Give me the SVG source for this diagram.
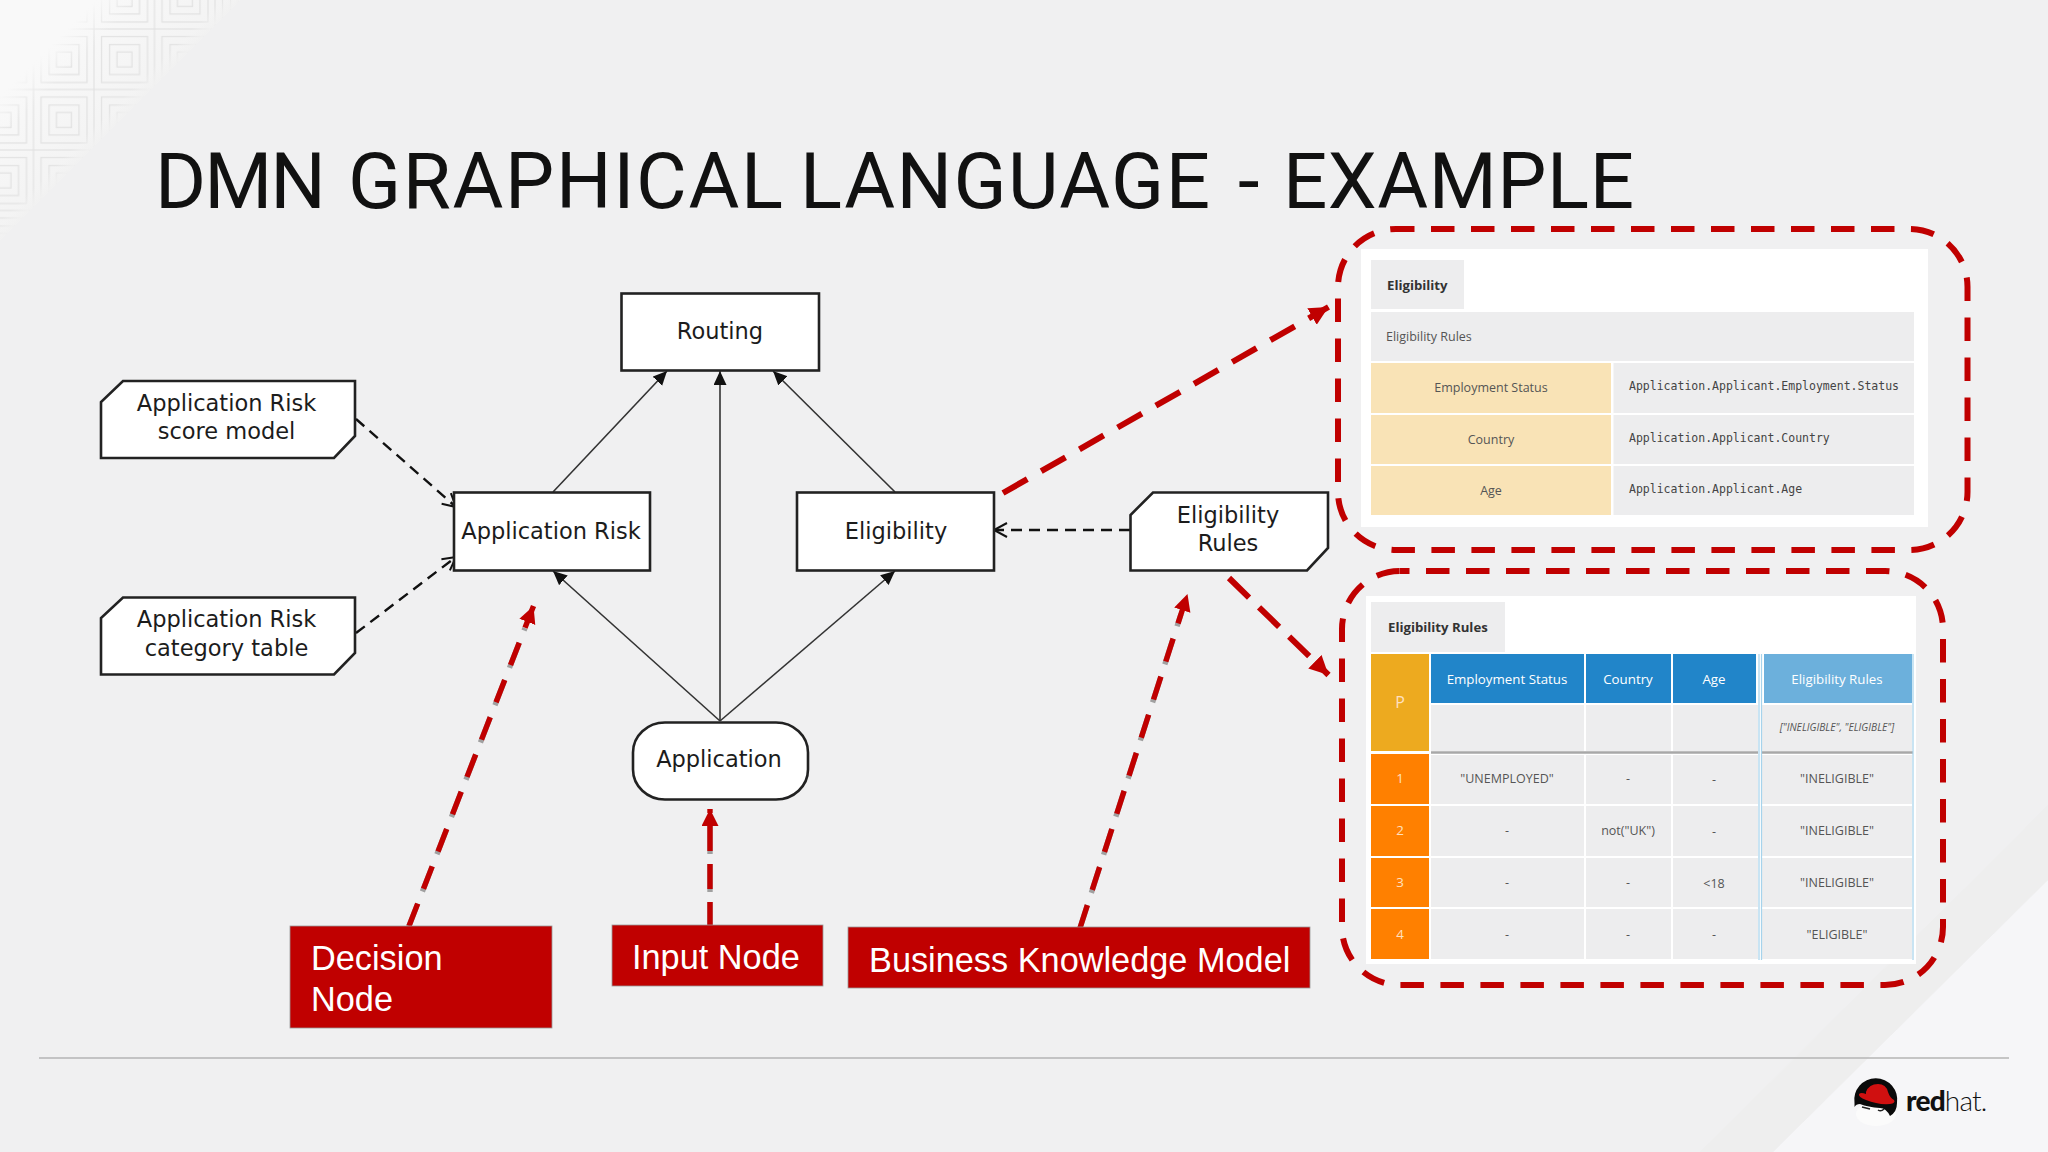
<svg xmlns="http://www.w3.org/2000/svg" width="2048" height="1152" viewBox="0 0 2048 1152">
<defs>
<linearGradient id="fade" x1="0" y1="0" x2="1" y2="1"><stop offset="0.2" stop-color="#f9f9f9"/><stop offset="0.29" stop-color="#f8f8f8" stop-opacity="0"/><stop offset="0.46" stop-color="#f4f4f4" stop-opacity="0"/><stop offset="0.5" stop-color="#f1f1f1"/></linearGradient>
<linearGradient id="tl" x1="0" y1="0" x2="1" y2="1"><stop offset="0" stop-color="#fdfdfd"/><stop offset="0.5" stop-color="#f3f3f3"/></linearGradient>
<pattern id="sq" width="60.5" height="60.5" patternUnits="userSpaceOnUse" x="33.5" y="29">
<g fill="none" stroke="#e3e3e3" stroke-width="1.3"><rect x="0" y="0" width="60.5" height="60.5"/><rect x="7.5" y="7.5" width="46" height="46"/><rect x="15.5" y="15.5" width="30" height="30"/><rect x="23" y="23" width="15" height="15"/></g>
</pattern>
<marker id="ah" markerUnits="userSpaceOnUse" markerWidth="16" markerHeight="14" refX="14" refY="6.5" orient="auto"><path d="M0 0L14 6.5L0 13z" fill="#111"/></marker>
<marker id="oh" markerUnits="userSpaceOnUse" markerWidth="18" markerHeight="18" refX="15" refY="8" orient="auto"><path d="M2 1L15 8L2 15" fill="none" stroke="#111" stroke-width="2"/></marker>
<marker id="rh" markerUnits="userSpaceOnUse" markerWidth="20" markerHeight="20" refX="17" refY="8.500" orient="auto"><path d="M0 0L17 8.500L0 17z" fill="#c00000"/></marker>
<marker id="rb" markerUnits="userSpaceOnUse" markerWidth="22" markerHeight="22" refX="19" refY="9.500" orient="auto"><path d="M0 0L19 9.500L0 19z" fill="#c00000"/></marker>
<style>
.n{fill:#fff;stroke:#222;stroke-width:2.6}
.t{font-family:"DejaVu Sans",sans-serif;font-size:22.5px;fill:#1c1c1c;text-anchor:middle}
.c{fill:none;stroke:#333;stroke-width:1.6;marker-end:url(#ah)}
.d{fill:none;stroke:#111;stroke-width:2.4;stroke-dasharray:11 7;marker-end:url(#oh)}
.r{fill:none;stroke:#c00000;stroke-width:5.4;stroke-dasharray:24 16}
.s{fill:none;stroke:#a0a0a0;stroke-width:5.4;stroke-dasharray:27 13}
.rt{fill:none;stroke:#c00000;stroke-width:6;stroke-dasharray:28 16}
.box{fill:#c00000;stroke:#999;stroke-width:.8}
.bt{font-family:"Liberation Sans",Arial,sans-serif;font-size:34.3px;fill:#fff}
.dash{fill:none;stroke:#c00000;stroke-width:6;stroke-dasharray:23.5 16.5}
.o{font-family:"Open Sans",sans-serif;font-size:12.5px;fill:#555;text-anchor:middle}
.ob{font-family:"Open Sans",sans-serif;font-size:13.2px;font-weight:700;fill:#333}
.m{font-family:"DejaVu Sans Mono",monospace;font-size:11.5px;fill:#444}
.w{font-family:"Open Sans",sans-serif;font-size:13.3px;fill:#fff;text-anchor:middle}
.nm{fill:#ffe0c0}
.g{fill:#ededee}.y{fill:#f9e3b6}.b{fill:#2185c9}.f{fill:#ff8000}
</style>
</defs>
<rect width="2048" height="1152" fill="#f0f0f1"/>
<path d="M0 0H240L0 240z" fill="url(#tl)"/>
<path d="M0 0H240L0 240z" fill="url(#sq)"/>
<path d="M0 0H240L0 240z" fill="url(#fade)"/>
<path d="M2048 880V1152H1773z" fill="#f6f6f8"/>
<path d="M2048 805V880L1773 1152H1700z" fill="#ececed" opacity=".6"/>
<text y="208" font-family="Roboto,'Open Sans',sans-serif" font-size="78" fill="#111"><tspan x="155" textLength="171" lengthAdjust="spacing">DMN</tspan> <tspan x="348" textLength="435" lengthAdjust="spacing">GRAPHICAL</tspan> <tspan x="800" textLength="410" lengthAdjust="spacing">LANGUAGE</tspan> <tspan x="1238" textLength="24" lengthAdjust="spacing">-</tspan> <tspan x="1283" textLength="351" lengthAdjust="spacing">EXAMPLE</tspan></text>

<g id="connectors">
<path class="c" d="M553 492L667 371"/>
<path class="c" d="M720 721L720 371"/>
<path class="c" d="M895 492L773 371"/>
<path class="c" d="M720 721L553 571"/>
<path class="c" d="M720 721L895 571"/>
<path class="d" d="M356 419L456 507"/>
<path class="d" d="M356 633L456 557"/>
<path class="d" d="M1130 530L994 530"/>
</g>

<g id="node-routing"><rect class="n" x="621.500" y="293.500" width="197.500" height="77"/><text class="t" x="720" y="339">Routing</text></g>
<g id="node-app-risk"><rect class="n" x="454" y="492.500" width="196" height="78"/><text class="t" x="551" y="539">Application Risk</text></g>
<g id="node-eligibility"><rect class="n" x="797" y="492.500" width="197" height="78"/><text class="t" x="896" y="539">Eligibility</text></g>
<g id="node-application"><rect class="n" x="633" y="722.500" width="175" height="77" rx="32" ry="30"/><text class="t" x="719" y="767">Application</text></g>
<g id="node-score"><path class="n" d="M123 381H355V436L334 458H101V402z"/><text class="t" x="226.500" y="411">Application Risk</text><text class="t" x="226.500" y="439">score model</text></g>
<g id="node-category"><path class="n" d="M123 597.500H355V653L334 674.500H101V618z"/><text class="t" x="226.500" y="627">Application Risk</text><text class="t" x="226.500" y="656">category table</text></g>
<g id="node-rules"><path class="n" d="M1153 492.500H1328V548L1307 570.500H1130.500V515z"/><text class="t" x="1228" y="523">Eligibility</text><text class="t" x="1228" y="551">Rules</text></g>

<g id="callouts">
<path class="s" d="M407.900 928.800L525 628"/>
<path class="s" d="M710 930V826" style="stroke-dasharray:28 10"/>
<path class="s" d="M1079.100 930.900L1181 614"/>
<path class="r" d="M409 926L533.500 606" marker-end="url(#rh)"/>
<path class="r" d="M710 927V809" marker-end="url(#rh)" style="stroke-dasharray:25 13"/>
<path class="r" d="M1080 928L1187.500 594" marker-end="url(#rh)"/>
<path class="rt" d="M1003 493L1328.500 307" marker-end="url(#rb)"/>
<path class="rt" d="M1229 578L1328.500 675" marker-end="url(#rb)" style="stroke-dasharray:28 14"/>
</g>

<g id="label-decision"><rect class="box" x="290" y="926" width="262" height="102"/><text class="bt" x="311" y="970">Decision</text><text class="bt" x="311" y="1011">Node</text></g>
<g id="label-input"><rect class="box" x="612" y="925" width="211" height="61"/><text class="bt" x="632" y="969">Input Node</text></g>
<g id="label-bkm"><rect class="box" x="848" y="927" width="462" height="61"/><text class="bt" x="869" y="972">Business Knowledge Model</text></g>

<g id="panel-context">
<rect x="1361" y="249" width="567" height="278" fill="#fff"/>
<rect class="g" x="1371" y="260" width="93" height="49"/><text class="ob" x="1387" y="290">Eligibility</text>
<rect class="g" x="1371" y="312" width="543" height="49"/><text class="o" x="1386" y="341" style="text-anchor:start">Eligibility Rules</text>
<rect class="y" x="1371" y="363" width="240" height="50"/><rect class="g" x="1613.500" y="363" width="300.500" height="50"/>
<rect class="y" x="1371" y="415" width="240" height="49"/><rect class="g" x="1613.500" y="415" width="300.500" height="49"/>
<rect class="y" x="1371" y="466" width="240" height="49"/><rect class="g" x="1613.500" y="466" width="300.500" height="49"/>
<text class="o" x="1491" y="392">Employment Status</text><text class="o" x="1491" y="444">Country</text><text class="o" x="1491" y="495">Age</text>
<text class="m" x="1629" y="390">Application.Applicant.Employment.Status</text><text class="m" x="1629" y="442">Application.Applicant.Country</text><text class="m" x="1629" y="493">Application.Applicant.Age</text>
<rect class="dash" x="1338" y="229" width="629.500" height="321" rx="58" ry="58" stroke-dashoffset="5"/>
</g>

<g id="panel-table">
<rect x="1366" y="596" width="550" height="368" fill="#fff"/>
<rect class="g" x="1371" y="602" width="134" height="50"/><text class="ob" x="1388" y="632">Eligibility Rules</text>
<rect x="1371" y="654" width="58" height="97" fill="#edaa1f"/>
<rect class="b" x="1431" y="654" width="153" height="49"/><rect class="b" x="1586" y="654" width="85" height="49"/><rect class="b" x="1673" y="654" width="83" height="49"/><rect x="1764" y="654" width="148" height="49" fill="#6cb0dc"/>
<g class="g">
<rect x="1431" y="705" width="153" height="46"/><rect x="1586" y="705" width="85" height="46"/><rect x="1673" y="705" width="85" height="46"/><rect x="1762" y="705" width="150" height="46"/>
<rect x="1431" y="755" width="153" height="49"/><rect x="1586" y="755" width="85" height="49"/><rect x="1673" y="755" width="85" height="49"/><rect x="1762" y="755" width="150" height="49"/>
<rect x="1431" y="806" width="153" height="50"/><rect x="1586" y="806" width="85" height="50"/><rect x="1673" y="806" width="85" height="50"/><rect x="1762" y="806" width="150" height="50"/>
<rect x="1431" y="858" width="153" height="49"/><rect x="1586" y="858" width="85" height="49"/><rect x="1673" y="858" width="85" height="49"/><rect x="1762" y="858" width="150" height="49"/>
<rect x="1431" y="909" width="153" height="50"/><rect x="1586" y="909" width="85" height="50"/><rect x="1673" y="909" width="85" height="50"/><rect x="1762" y="909" width="150" height="50"/>
</g>
<path d="M1431 752.500H1758M1762 752.500H1913" stroke="#a8a8a8" stroke-width="2.600"/>
<path d="M1759 654V960M1761.500 654V960M1913 654V960" stroke="#a6d3ec" stroke-width="1.2" fill="none"/>
<rect class="f" x="1371" y="754" width="58" height="50"/><rect class="f" x="1371" y="806" width="58" height="50"/><rect class="f" x="1371" y="858" width="58" height="49"/><rect class="f" x="1371" y="909" width="58" height="50"/>
<text class="w nm" x="1400" y="708" style="font-size:16px">P</text>
<text class="w" x="1507" y="684">Employment Status</text><text class="w" x="1628" y="684">Country</text><text class="w" x="1714" y="684">Age</text><text class="w" x="1837" y="684">Eligibility Rules</text>
<text class="o" x="1837" y="731" style="font-size:10.200px;font-style:italic">["INELIGIBLE", "ELIGIBLE"]</text>
<text class="w nm" x="1400" y="783">1</text><text class="w nm" x="1400" y="835">2</text><text class="w nm" x="1400" y="887">3</text><text class="w nm" x="1400" y="939">4</text>
<text class="o" x="1507" y="783">"UNEMPLOYED"</text><text class="o" x="1628" y="783">-</text><text class="o" x="1714" y="784">-</text><text class="o" x="1837" y="783">"INELIGIBLE"</text>
<text class="o" x="1507" y="835">-</text><text class="o" x="1628" y="835">not("UK")</text><text class="o" x="1714" y="836">-</text><text class="o" x="1837" y="835">"INELIGIBLE"</text>
<text class="o" x="1507" y="887">-</text><text class="o" x="1628" y="887">-</text><text class="o" x="1714" y="888">&lt;18</text><text class="o" x="1837" y="887">"INELIGIBLE"</text>
<text class="o" x="1507" y="939">-</text><text class="o" x="1628" y="939">-</text><text class="o" x="1714" y="939">-</text><text class="o" x="1837" y="939">"ELIGIBLE"</text>
<rect class="dash" x="1342" y="571" width="601" height="414" rx="58" ry="58" stroke-dashoffset="14"/>
</g>

<path d="M39 1058H2009" stroke="#b5b5b5" stroke-width="1.500"/>

<g id="logo">
<ellipse cx="1876" cy="1114" rx="20" ry="12" fill="#fbfbfb"/>
<path d="M1854.500 1103A21.500 21.500 0 1 1 1897 1103Q1897 1112 1890 1116Q1886 1108 1880 1108Q1868 1107 1860 1104Q1856 1104 1854.500 1107z" fill="#0a0a0a"/>
<path d="M1866 1092Q1869 1084 1878 1084Q1886 1084 1888 1092Q1890 1098 1894 1100Q1896 1103 1890 1104Q1878 1105 1866 1100Q1858 1097 1859 1094Q1861 1092 1866 1094z" fill="#d01010"/>
<path d="M1862 1107L1870 1109M1878 1110Q1881 1112 1884 1109" stroke="#222" stroke-width="1.500" fill="none"/>
<text x="1906" y="1111" font-family="Lato,sans-serif" font-size="28" letter-spacing="-.8" fill="#111"><tspan font-weight="900">red</tspan><tspan font-weight="300">hat.</tspan></text>
</g>
</svg>
